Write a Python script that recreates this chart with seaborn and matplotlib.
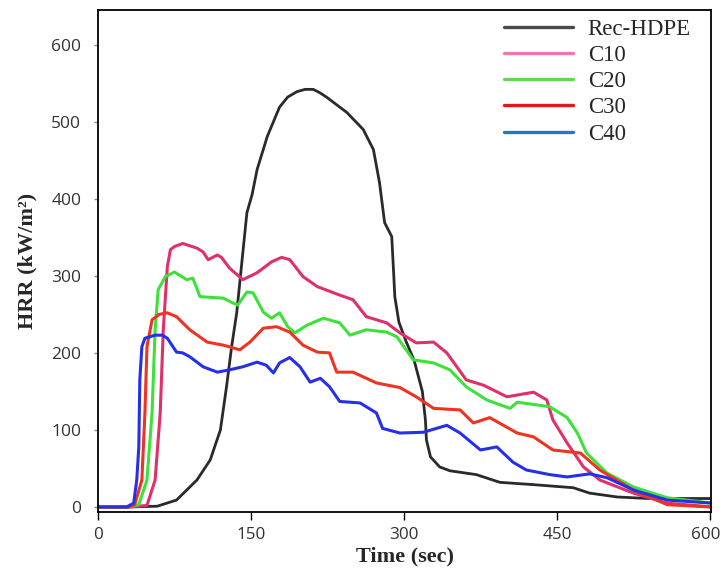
import matplotlib
matplotlib.use("Agg")
import matplotlib.pyplot as plt
import matplotlib.transforms as mtransforms
import seaborn as sns
import pandas as pd
from matplotlib.lines import Line2D

# ---- data ----
t_hdpe = [0, 30, 58, 77, 97, 110, 120, 126, 131, 136, 141, 146, 151, 156, 166, 178, 186, 195, 203, 211,
          217, 224, 244, 260, 270, 276, 281, 288, 290, 291, 295, 302, 310, 318, 321, 322, 326, 335, 345,
          371, 394, 427, 466, 482, 509, 540, 570, 602]
v_hdpe = [0, 0, 1, 9, 35, 61, 100, 156, 208, 252, 317, 382, 405, 438, 481, 519, 532, 539, 542, 542,
          538, 532, 512, 490, 464, 421, 369, 351, 300, 273, 240, 215, 190, 150, 113, 87, 65, 52, 47,
          42, 32, 29, 25, 18, 13, 11, 11, 11]

t_c10 = [0, 30, 48, 56, 61, 64, 68, 71, 75, 83, 97, 103, 108, 117, 121, 129, 142, 156, 170, 180, 188,
         201, 215, 237, 250, 263, 283, 296, 312, 329, 342, 361, 378, 401, 427, 440, 446, 460, 476, 492,
         525, 558, 602]
v_c10 = [0, 0, 2, 35, 122, 230, 312, 334, 338, 342, 336, 331, 321, 327, 324, 310, 295, 304, 318, 324, 321,
         299, 286, 275, 269, 247, 239, 226, 213, 214, 200, 165, 158, 143, 149, 139, 113, 83, 52, 35,
         18, 5, 0]

t_c20 = [0, 30, 40, 48, 53, 56, 59, 66, 75, 87, 93, 100, 123, 132, 137, 146, 152, 162, 170, 178, 186,
         193, 205, 221, 237, 247, 263, 283, 293, 309, 329, 345, 361, 381, 404, 411, 433, 443, 460, 470,
         479, 499, 525, 558, 602]
v_c20 = [0, 0, 3, 35, 122, 230, 282, 299, 305, 295, 297, 273, 271, 265, 262, 279, 278, 253, 245, 252, 234,
         226, 236, 245, 239, 223, 230, 227, 221, 191, 187, 178, 156, 139, 128, 136, 132, 130, 116, 96,
         70, 44, 26, 12, 5]

t_c30 = [0, 30, 36, 43, 46, 48, 53, 60, 68, 77, 90, 107, 123, 139, 149, 162, 175, 188, 201, 215, 227,
         234, 250, 273, 296, 312, 329, 355, 368, 384, 411, 427, 446, 473, 492, 525, 558, 602]
v_c30 = [0, 0, 3, 35, 122, 208, 243, 250, 252, 247, 230, 214, 210, 204, 214, 232, 234, 227, 210, 201, 200,
         175, 175, 161, 155, 143, 128, 126, 109, 116, 96, 91, 74, 70, 48, 22, 3, 0]

t_c40 = [0, 28, 35, 38, 40, 41, 43, 46, 56, 63, 68, 77, 83, 90, 103, 117, 129, 142, 156, 165, 172, 178,
         188, 198, 208, 218, 227, 237, 257, 273, 279, 296, 319, 342, 355, 375, 391, 407, 420, 443, 460,
         482, 499, 525, 558, 602]
v_c40 = [0, 0, 5, 35, 78, 165, 208, 219, 223, 223, 219, 201, 200, 195, 182, 175, 178, 182, 188, 184, 174,
         187, 194, 182, 162, 167, 156, 137, 135, 122, 102, 96, 97, 106, 96, 74, 78, 58, 48, 42, 39,
         43, 38, 22, 9, 5]

series_names = ["Rec-HDPE", "C10", "C20", "C30", "C40"]
x_ticks = [0, 150, 300, 450, 600]
y_ticks = [0, 100, 200, 300, 400, 500, 600]

# ---- styling ----
sns.set_theme(style="white")
plt.rcParams["font.family"] = ["Liberation Serif", "DejaVu Serif"]

line_colors = ["#2a2a2a", "#e0306a", "#3ee03a", "#ee3322", "#2630e6"]
legend_colors = ["#4a4a4a", "#ee77b0", "#66d455", "#e01818", "#2277c0"]
line_widths = [2.0, 2.2, 2.2, 2.2, 2.2]

fig = plt.figure(figsize=(7.23, 5.74), dpi=100)
ax = fig.add_axes([98 / 723, 1 - 512 / 574, (711 - 98) / 723, (512 - 10) / 574])

all_t = [t_hdpe, t_c10, t_c20, t_c30, t_c40]
all_v = [v_hdpe, v_c10, v_c20, v_c30, v_c40]
frames = []
for name, tt, vv in zip(series_names, all_t, all_v):
    frames.append(pd.DataFrame({"Time": tt, "HRR": vv, "Sample": name}))
df = pd.concat(frames, ignore_index=True)

for name, col, lw in zip(series_names, line_colors, line_widths):
    sub = df[df["Sample"] == name]
    sns.lineplot(data=sub, x="Time", y="HRR", color=col, linewidth=lw, ax=ax,
                 legend=False, sort=False, estimator=None)

ax.set_xlim(0, 601)
ax.set_ylim(-6.5, 645)
ax.set_xticks(x_ticks)
ax.set_yticks(y_ticks)
ax.set_xticklabels([str(v) for v in x_ticks], fontfamily="Open Sans", fontsize=12.3, color="#333333")
ax.set_yticklabels([str(v) for v in y_ticks], fontfamily="Open Sans", fontsize=12.5, color="#333333")
ax.tick_params(axis="x", direction="out", length=6, width=1.0, color="black", pad=5, bottom=True)
ax.tick_params(axis="y", direction="out", length=3, width=1.0, color="#888888", pad=9, left=True)

# nudge the last x tick label so it stays inside the figure
last = ax.get_xticklabels()[-1]
last.set_transform(last.get_transform() + mtransforms.ScaledTranslation(-4 / 100, 0, fig.dpi_scale_trans))

for s in ax.spines.values():
    s.set_color("black")
    s.set_linewidth(1.3)

ax.set_xlabel("Time (sec)", fontsize=16, fontweight="bold", labelpad=2)
ax.set_ylabel("HRR (kW/m²)", fontsize=16, fontweight="bold", labelpad=10)

handles = [Line2D([0], [0], color=c, lw=2.4) for c in legend_colors]
ax.legend(handles, series_names, loc="upper right", bbox_to_anchor=(0.982, 1.0),
          frameon=False, fontsize=16.5, handlelength=3.0, handletextpad=0.65,
          labelspacing=0.22, borderaxespad=0.0)

fig.savefig("out.png", dpi=100)
